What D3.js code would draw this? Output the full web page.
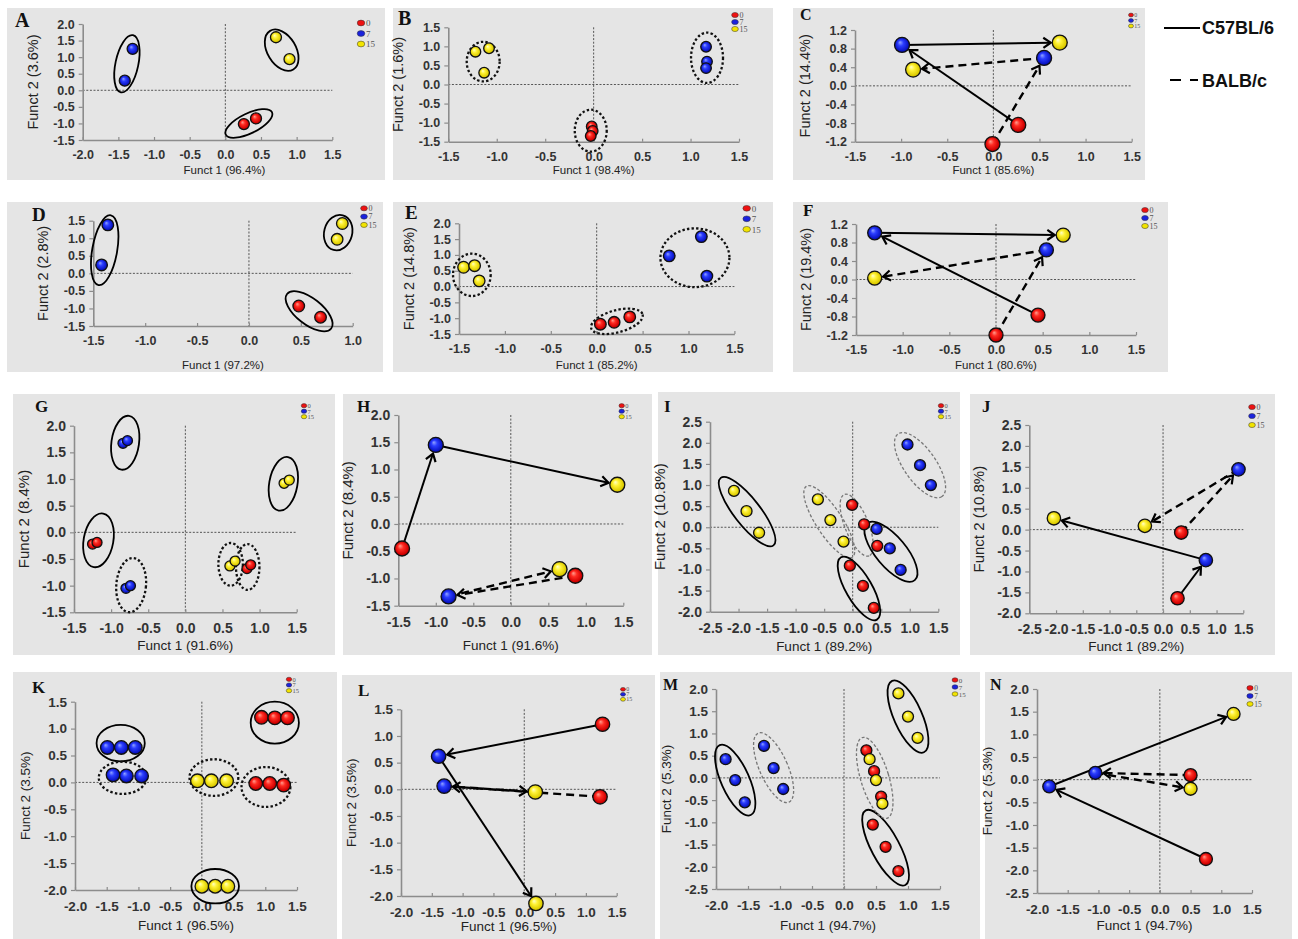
<!DOCTYPE html>
<html>
<head>
<meta charset="utf-8">
<script src="https://cdn.jsdelivr.net/npm/d3@7"></script>
<style>
  body { margin: 0; background: #fff; }
  svg { display: block; }
</style>
</head>
<body>
<script>
// ---- data: groups are days 0 / 7 / 15 ----
const days = [0, 7, 15];
const dayLabels = ['0', '7', '15'];
const strains = ['C57BL/6', 'BALB/c'];

// scatter panels: [day, funct1, funct2]
const ptsA = [[0, 0.26, -1.02], [0, 0.43, -0.85], [7, -1.41, 0.29], [7, -1.30, 1.25], [15, 0.71, 1.60], [15, 0.90, 0.94]];
const ptsB = [[0, -0.02, -1.10], [0, -0.01, -1.22], [0, -0.03, -1.35], [7, 1.16, 0.99], [7, 1.17, 0.60], [7, 1.16, 0.43],
  [15, -1.22, 0.86], [15, -1.08, 0.95], [15, -1.13, 0.31]];
const ptsD = [[0, 0.48, -0.93], [0, 0.69, -1.25], [7, -1.36, 1.38], [7, -1.42, 0.24], [15, 0.90, 1.42], [15, 0.85, 0.97]];
const ptsE = [[0, 0.04, -1.19], [0, 0.19, -1.13], [0, 0.36, -0.96], [7, 0.79, 0.97], [7, 1.14, 1.58], [7, 1.20, 0.33],
  [15, -1.45, 0.61], [15, -1.33, 0.66], [15, -1.28, 0.18]];
const ptsG = [[7, -0.84, 1.67], [7, -0.78, 1.72], [15, 1.33, 0.92], [15, 1.40, 0.98], [0, -1.25, -0.22], [0, -1.19, -0.19],
  [7, -0.80, -1.05], [7, -0.74, -1.00], [15, 0.60, -0.63], [15, 0.67, -0.54], [0, 0.83, -0.68], [0, 0.88, -0.61]];
const ptsI = [[15, -2.08, 0.86], [15, -1.86, 0.38], [15, -1.64, -0.13], [15, -0.61, 0.66], [15, -0.39, 0.17], [15, -0.16, -0.34],
  [0, -0.01, 0.53], [0, 0.20, 0.07], [7, 0.42, -0.04], [0, 0.43, -0.44], [7, 0.65, -0.50], [7, 0.84, -1.01],
  [0, -0.05, -0.91], [0, 0.18, -1.39], [0, 0.37, -1.91], [7, 0.96, 1.96], [7, 1.18, 1.47], [7, 1.37, 1.00]];
const ptsK = [[7, -1.49, 0.65], [7, -1.27, 0.65], [7, -1.05, 0.65], [7, -1.40, 0.14], [7, -1.19, 0.12], [7, -0.95, 0.12],
  [0, 0.94, 1.21], [0, 1.15, 1.20], [0, 1.35, 1.20], [0, 0.85, -0.02], [0, 1.07, -0.02], [0, 1.29, -0.05],
  [15, -0.07, 0.03], [15, 0.15, 0.03], [15, 0.39, 0.03], [15, 0.00, -1.93], [15, 0.21, -1.93], [15, 0.41, -1.93]];
const ptsM = [[7, -1.85, 0.42], [7, -1.70, -0.05], [7, -1.55, -0.55], [7, -1.25, 0.72], [7, -1.10, 0.22], [7, -0.95, -0.25],
  [15, 0.85, 1.90], [15, 1.00, 1.38], [15, 1.15, 0.90],
  [0, 0.35, 0.62], [15, 0.40, 0.42], [0, 0.47, 0.15], [15, 0.50, -0.05], [0, 0.58, -0.42], [15, 0.60, -0.58],
  [0, 0.45, -1.05], [0, 0.65, -1.55], [0, 0.85, -2.10]];

// group ellipses: [centre f1, centre f2, half-axis in f1 units, half-axis in f2 units, tilt deg, strain]
const ellA = [[-1.38, 0.80, 0.16, 0.88, 12, 0], [0.79, 1.21, 0.20, 0.68, -31, 0], [0.33, -1.00, 0.36, 0.30, -26, 0]];
const ellB = [[-1.14, 0.60, 0.17, 0.52, 0, 1], [1.17, 0.70, 0.165, 0.66, 0, 1], [-0.03, -1.21, 0.165, 0.55, 0, 1]];
const ellD = [[-1.39, 0.66, 0.12, 1.01, 10, 0], [0.86, 1.16, 0.135, 0.51, 15, 0], [0.58, -1.08, 0.27, 0.37, 38, 0]];
const ellE = [[-1.36, 0.37, 0.205, 0.67, 0, 1], [1.07, 0.91, 0.376, 0.93, 0, 1], [0.22, -1.10, 0.29, 0.35, -15, 1]];
const ellG = [[-0.81, 1.68, 0.186, 0.51, 8, 0], [1.32, 0.91, 0.19, 0.51, 10, 0], [-1.17, -0.15, 0.20, 0.51, 10, 0],
  [-0.73, -0.99, 0.20, 0.51, 5, 1], [0.61, -0.60, 0.165, 0.40, 0, 1], [0.84, -0.65, 0.158, 0.43, 0, 1]];
const ellI = [[-1.85, 0.37, 0.75, 0.31, 52, 0], [-0.41, 0.13, 0.74, 0.31, 57, 1], [0.07, 0.05, 0.58, 0.28, 68, 1],
  [0.67, -0.58, 0.65, 0.36, 50, 0], [0.11, -1.45, 0.63, 0.31, 60, 0], [1.18, 1.47, 0.67, 0.38, 55, 1]];
const ellK = [[-1.28, 0.73, 0.38, 0.34, 0, 0], [-1.25, 0.085, 0.375, 0.30, 0, 1], [1.15, 1.11, 0.38, 0.39, 0, 0],
  [0.19, 0.09, 0.385, 0.34, 0, 1], [1.01, -0.085, 0.385, 0.37, 0, 1], [0.21, -1.93, 0.375, 0.32, 0, 0]];
const ellM = [[-1.70, -0.05, 0.22, 0.86, -24, 0], [-1.10, 0.23, 0.22, 0.85, -24, 1], [1.00, 1.38, 0.22, 0.88, -24, 0],
  [0.65, -1.57, 0.22, 0.95, -28, 0], [0.48, 0.00, 0.22, 0.95, -17, 1]];

// trajectory panels (group means): [strain, day, funct1, funct2]
const ptsC = [[0, 0, 0.27, -0.84], [0, 7, -0.99, 0.88], [0, 15, 0.72, 0.93], [1, 0, -0.01, -1.25], [1, 7, 0.55, 0.60], [1, 15, -0.87, 0.35]];
const ptsF = [[0, 0, 0.45, -0.77], [0, 7, -1.30, 1.01], [0, 15, 0.72, 0.96], [1, 0, 0.00, -1.20], [1, 7, 0.54, 0.64], [1, 15, -1.30, 0.03]];
const ptsH = [[0, 0, -1.45, -0.45], [0, 7, -1.00, 1.45], [0, 15, 1.42, 0.72], [1, 0, 0.86, -0.95], [1, 7, -0.83, -1.33], [1, 15, 0.65, -0.83]];
const ptsJ = [[0, 0, 0.27, -1.64], [0, 7, 0.80, -0.73], [0, 15, -2.04, 0.27], [1, 0, 0.34, -0.07], [1, 7, 1.41, 1.44], [1, 15, -0.34, 0.09]];
const ptsL = [[0, 0, 1.27, 1.22], [0, 7, -1.39, 0.62], [0, 15, 0.19, -2.14], [1, 0, 1.23, -0.14], [1, 7, -1.30, 0.06], [1, 15, 0.18, -0.05]];
const ptsN = [[0, 0, 0.75, -1.75], [0, 7, -1.80, -0.15], [0, 15, 1.20, 1.45], [1, 0, 0.50, 0.10], [1, 7, -1.05, 0.15], [1, 15, 0.50, -0.20]];

// ---- layout ----
const W = 1298, H = 939;
const small = { tick: 12.5, xt: 11.5, yt: 14.5, xpad: 10 };
const big = { tick: 14, xt: 13.5, yt: 15, xpad: 11 };
const bot = { tick: 13.5, xt: 13.5, yt: 13.5, xpad: 11 };

const panels = [
  { id: 'A', pts: ptsA, ell: ellA, bg: [7, 8, 385, 180], plot: [82.7, 24, 332.3, 140], xd: [-2, 1.5], yd: [-1.5, 2], ys: 0.5,
    xl: 'Funct 1 (96.4%)', yl: 'Funct 2 (3.6%)', r: 5.5, leg: [361, 23, 10.5, 9], let: [15, 27, 20], ty: 174, tdx: 17, s: small },
  { id: 'B', pts: ptsB, ell: ellB, bg: [393, 8, 773, 180], plot: [448.3, 27.3, 739, 141.7], xd: [-1.5, 1.5], yd: [-1.5, 1.5], ys: 0.5,
    xl: 'Funct 1 (98.4%)', yl: 'Funct 2 (1.6%)', r: 5.3, leg: [735, 15, 7, 8], let: [398, 25, 20], ty: 174, s: small },
  { id: 'C', pts: ptsC, arrows: true, bg: [793, 8, 1145, 180], plot: [855, 30, 1131.7, 141.7], xd: [-1.5, 1.5], yd: [-1.2, 1.2], ys: 0.4,
    xl: 'Funct 1 (85.6%)', yl: 'Funct 2 (14.4%)', r: 7.5, leg: [1131, 15, 5.5, 6], let: [800, 20, 16], ty: 174, s: small },
  { id: 'D', pts: ptsD, ell: ellD, bg: [7, 202, 383, 372], plot: [93.3, 220.7, 352.7, 326], xd: [-1.5, 1.0], yd: [-1.5, 1.5], ys: 0.5,
    xl: 'Funct 1 (97.2%)', yl: 'Funct 2 (2.8%)', r: 5.8, leg: [364, 208.3, 8.3, 8], let: [32, 220.7, 19], ty: 369, s: small },
  { id: 'E', pts: ptsE, ell: ellE, bg: [393, 202, 773, 372], plot: [459, 223.3, 734.4, 334], xd: [-1.5, 1.5], yd: [-1.5, 2], ys: 0.5,
    xl: 'Funct 1 (85.2%)', yl: 'Funct 2 (14.8%)', r: 5.8, leg: [746.7, 208.3, 10.5, 9], let: [405, 219.3, 19], ty: 369, s: small },
  { id: 'F', pts: ptsF, arrows: true, bg: [793, 202, 1168, 372], plot: [856, 224, 1136, 335], xd: [-1.5, 1.5], yd: [-1.2, 1.2], ys: 0.4,
    xl: 'Funct 1 (80.6%)', yl: 'Funct 2 (19.4%)', r: 7, leg: [1145, 210, 8, 8], let: [803, 216, 17], ty: 369, s: small },
  { id: 'G', pts: ptsG, ell: ellG, bg: [13, 394, 335, 655], plot: [74, 425.7, 296.7, 612.3], xd: [-1.5, 1.5], yd: [-1.5, 2], ys: 0.5,
    xl: 'Funct 1 (91.6%)', yl: 'Funct 2 (8.4%)', r: 5, leg: [304, 405.7, 5.5, 6.5], let: [35, 412, 17], ty: 650, s: big },
  { id: 'H', pts: ptsH, arrows: true, bg: [343, 394, 652, 655], plot: [398.3, 415, 623.3, 605.7], xd: [-1.5, 1.5], yd: [-1.5, 2], ys: 0.5,
    xl: 'Funct 1 (91.6%)', yl: 'Funct 2 (8.4%)', r: 7.5, leg: [621.7, 405.7, 5.5, 6.5], let: [357, 412, 17], ty: 650, s: big },
  { id: 'I', pts: ptsI, ell: ellI, grey: true, bg: [658, 392, 960, 655], plot: [710, 421.7, 938.3, 611.7], xd: [-2.5, 1.5], yd: [-2, 2.5], ys: 0.5,
    xl: 'Funct 1 (89.2%)', yl: 'Funct 2 (10.8%)', r: 5.5, leg: [941, 405.7, 5.5, 6.5], let: [664, 412, 17], ty: 651, s: big },
  { id: 'J', pts: ptsJ, arrows: true, bg: [970, 394, 1275, 655], plot: [1029.3, 425, 1243.3, 613.3], xd: [-2.5, 1.5], yd: [-2, 2.5], ys: 0.5,
    xl: 'Funct 1 (89.2%)', yl: 'Funct 2 (10.8%)', r: 6.7, leg: [1252, 407, 9, 8], let: [982, 412, 17], ty: 651, s: big },
  { id: 'K', pts: ptsK, ell: ellK, bg: [13, 672, 337, 939], plot: [75, 701.7, 297, 890], xd: [-2, 1.5], yd: [-2, 1.5], ys: 0.5,
    xl: 'Funct 1 (96.5%)', yl: 'Funct 2 (3.5%)', r: 6.8, leg: [289, 679.3, 5.7, 6.5], let: [32, 692.7, 17], ty: 930, s: bot },
  { id: 'L', pts: ptsL, arrows: true, bg: [342, 675, 655, 939], plot: [401, 709.3, 616.7, 896], xd: [-2, 1.5], yd: [-2, 1.5], ys: 0.5,
    xl: 'Funct 1 (96.5%)', yl: 'Funct 2 (3.5%)', r: 7.2, leg: [623, 689.3, 5, 6], let: [358, 696, 17], ty: 931, s: bot },
  { id: 'M', pts: ptsM, ell: ellM, grey: true, bg: [660, 672, 980, 939], plot: [716, 689, 940, 889], xd: [-2, 1.5], yd: [-2.5, 2], ys: 0.5,
    xl: 'Funct 1 (94.7%)', yl: 'Funct 2 (5.3%)', r: 5.5, leg: [955, 680, 7, 7], let: [663, 690, 16], ty: 930, s: bot },
  { id: 'N', pts: ptsN, arrows: true, bg: [985, 672, 1292, 939], plot: [1037, 689, 1252, 893], xd: [-2, 1.5], yd: [-2.5, 2], ys: 0.5,
    xl: 'Funct 1 (94.7%)', yl: 'Funct 2 (5.3%)', r: 6.5, leg: [1250, 688, 8, 7.5], let: [990, 690, 16], ty: 930, s: bot },
];

const sphere = {
  0: ['#ff9f90', '#ff2b22', '#cf0000', '#6e0000'],
  7: ['#93a4ff', '#2b3dff', '#0a14c4', '#00005c'],
  15: ['#ffffc8', '#fff236', '#ddcc00', '#857400'],
};
const flat = { 0: '#ee1111', 7: '#1a22dd', 15: '#f2e400' };

const sans = 'Arial, "Liberation Sans", sans-serif';
const serif = '"Times New Roman", "Liberation Serif", serif';
const fmt = (d) => d.toFixed(1);

const svg = d3.select('body').append('svg')
  .attr('width', W)
  .attr('height', H)
  .attr('viewBox', [0, 0, W, H]);

const defs = svg.append('defs');
days.forEach((d) => {
  const gr = defs.append('radialGradient')
    .attr('id', `sph${d}`)
    .attr('cx', 0.5).attr('cy', 0.5).attr('r', 0.55)
    .attr('fx', 0.36).attr('fy', 0.32);
  [0, 0.35, 0.8, 1].forEach((o, i) => gr.append('stop').attr('offset', o).attr('stop-color', sphere[d][i]));
});

const ellStyle = (strain, grey) => {
  if (strain === 0) return { stroke: '#000', w: 1.8, dash: null };
  if (grey) return { stroke: '#777', w: 1.3, dash: '3,2' };
  return { stroke: '#111', w: 2.3, dash: '2.4,2.2' };
};

function ticks(dom, step) {
  const lo = Math.round(dom[0] / step), hi = Math.round(dom[1] / step);
  return d3.range(lo, hi + 1).map((i) => +(i * step).toFixed(2));
}

function arrow(g, x1, y1, x2, y2, r, dashed) {
  const dx = x2 - x1, dy = y2 - y1;
  const len = Math.hypot(dx, dy);
  const ex = x2 - dx / len * (r + 1.5), ey = y2 - dy / len * (r + 1.5);
  g.append('line')
    .attr('x1', x1).attr('y1', y1).attr('x2', ex).attr('y2', ey)
    .attr('stroke', '#000')
    .attr('stroke-width', dashed ? 2.4 : 2)
    .attr('stroke-dasharray', dashed ? '8,5' : null);
  const a = Math.atan2(dy, dx), h = 9, w = 0.6;
  g.append('path')
    .attr('d', `M${ex - h * Math.cos(a - w)},${ey - h * Math.sin(a - w)}L${ex},${ey}L${ex - h * Math.cos(a + w)},${ey - h * Math.sin(a + w)}`)
    .attr('fill', 'none')
    .attr('stroke', '#000')
    .attr('stroke-width', 2.2);
}

function drawPanel(p) {
  const g = svg.append('g');
  const [L, T, R, B] = p.plot;
  const st = p.s;

  g.append('rect')
    .attr('x', p.bg[0]).attr('y', p.bg[1])
    .attr('width', p.bg[2] - p.bg[0]).attr('height', p.bg[3] - p.bg[1])
    .attr('fill', '#e5e5e5');

  const x = d3.scaleLinear().domain(p.xd).range([L, R]);
  const y = d3.scaleLinear().domain(p.yd).range([B, T]);

  // zero lines
  g.append('line')
    .attr('x1', L).attr('x2', R).attr('y1', y(0)).attr('y2', y(0))
    .attr('stroke', '#555').attr('stroke-width', 1).attr('stroke-dasharray', '2,1.6');
  g.append('line')
    .attr('x1', x(0)).attr('x2', x(0)).attr('y1', T).attr('y2', B)
    .attr('stroke', '#555').attr('stroke-width', 1).attr('stroke-dasharray', '2,1.6');

  // axes
  const ax = g.append('g')
    .attr('transform', `translate(0,${B})`)
    .call(d3.axisBottom(x).tickValues(ticks(p.xd, 0.5)).tickFormat(fmt).tickSizeInner(-3).tickSizeOuter(0).tickPadding(st.xpad));
  const ay = g.append('g')
    .attr('transform', `translate(${L},0)`)
    .call(d3.axisLeft(y).tickValues(ticks(p.yd, p.ys)).tickFormat(fmt).tickSizeInner(4).tickSizeOuter(0).tickPadding(4));
  [ax, ay].forEach((a) => {
    a.select('.domain').attr('stroke', '#8c8c8c').attr('stroke-width', 1.6);
    a.selectAll('.tick line').attr('stroke', '#8c8c8c').attr('stroke-width', 1.2);
    a.selectAll('.tick text')
      .attr('font-family', sans).attr('font-size', st.tick)
      .attr('font-weight', 'bold').attr('fill', '#333');
  });

  // axis titles
  g.append('text')
    .attr('x', (L + R) / 2 + (p.tdx || 0)).attr('y', p.ty)
    .attr('text-anchor', 'middle')
    .attr('font-family', sans).attr('font-size', st.xt).attr('fill', '#222')
    .text(p.xl);
  g.append('text')
    .attr('transform', `translate(${L - 45},${(T + B) / 2}) rotate(-90)`)
    .attr('text-anchor', 'middle')
    .attr('font-family', sans).attr('font-size', st.yt).attr('fill', '#222')
    .text(p.yl);

  // panel letter
  g.append('text')
    .attr('x', p.let[0]).attr('y', p.let[1])
    .attr('font-family', serif).attr('font-weight', 'bold').attr('font-size', p.let[2])
    .attr('fill', '#111')
    .text(p.id);

  // group ellipses
  if (p.ell) {
    g.selectAll(null)
      .data(p.ell)
      .join('ellipse')
      .attr('cx', 0).attr('cy', 0)
      .attr('rx', (e) => Math.abs(x(e[0] + e[2]) - x(e[0])))
      .attr('ry', (e) => Math.abs(y(e[1] + e[3]) - y(e[1])))
      .attr('transform', (e) => `translate(${x(e[0])},${y(e[1])}) rotate(${e[4]})`)
      .attr('fill', 'none')
      .each(function (e) {
        const s = ellStyle(e[5], p.grey);
        d3.select(this)
          .attr('stroke', s.stroke)
          .attr('stroke-width', s.w)
          .attr('stroke-dasharray', s.dash);
      });
  }

  // trajectories day 0 -> 7 -> 15 per strain
  let pts;
  if (p.arrows) {
    pts = p.pts.map((d) => ({ strain: d[0], day: d[1], f1: d[2], f2: d[3] }));
    const lg = g.append('g');
    [0, 1].forEach((s) => {
      const seq = days.map((d) => pts.find((q) => q.strain === s && q.day === d));
      for (let i = 0; i < seq.length - 1; i++) {
        arrow(lg, x(seq[i].f1), y(seq[i].f2), x(seq[i + 1].f1), y(seq[i + 1].f2), p.r, s === 1);
      }
    });
  } else {
    pts = p.pts.map((d) => ({ day: d[0], f1: d[1], f2: d[2] }));
  }

  g.append('g')
    .selectAll('circle')
    .data(pts)
    .join('circle')
    .attr('cx', (d) => x(d.f1))
    .attr('cy', (d) => y(d.f2))
    .attr('r', p.r)
    .attr('fill', (d) => `url(#sph${d.day})`)
    .attr('stroke', '#111')
    .attr('stroke-width', 1.3);

  // small day legend
  const [lx, ly, ls, lf] = p.leg;
  const leg = g.append('g')
    .selectAll('g')
    .data(days)
    .join('g')
    .attr('transform', (d, i) => `translate(${lx},${ly + i * ls})`);
  leg.append('ellipse')
    .attr('rx', lf * 0.42).attr('ry', lf * 0.32)
    .attr('fill', (d) => flat[d])
    .attr('stroke', '#333').attr('stroke-width', 0.5);
  leg.append('text')
    .attr('x', lf * 0.55).attr('y', lf * 0.36)
    .attr('font-family', serif).attr('font-size', lf).attr('fill', '#555')
    .text((d, i) => dayLabels[i]);
}

panels.forEach(drawPanel);

// strain key (line style)
const key = svg.append('g');
key.append('line')
  .attr('x1', 1164).attr('x2', 1200).attr('y1', 28).attr('y2', 28)
  .attr('stroke', '#000').attr('stroke-width', 2.2);
key.append('line')
  .attr('x1', 1170).attr('x2', 1198).attr('y1', 80).attr('y2', 80)
  .attr('stroke', '#000').attr('stroke-width', 2.2).attr('stroke-dasharray', '11,9');
key.selectAll('text')
  .data(strains)
  .join('text')
  .attr('x', 1202)
  .attr('y', (d, i) => (i ? 87 : 34))
  .attr('font-family', sans).attr('font-weight', 'bold').attr('font-size', 18)
  .attr('fill', '#111')
  .text((d) => d);
</script>
</body>
</html>
